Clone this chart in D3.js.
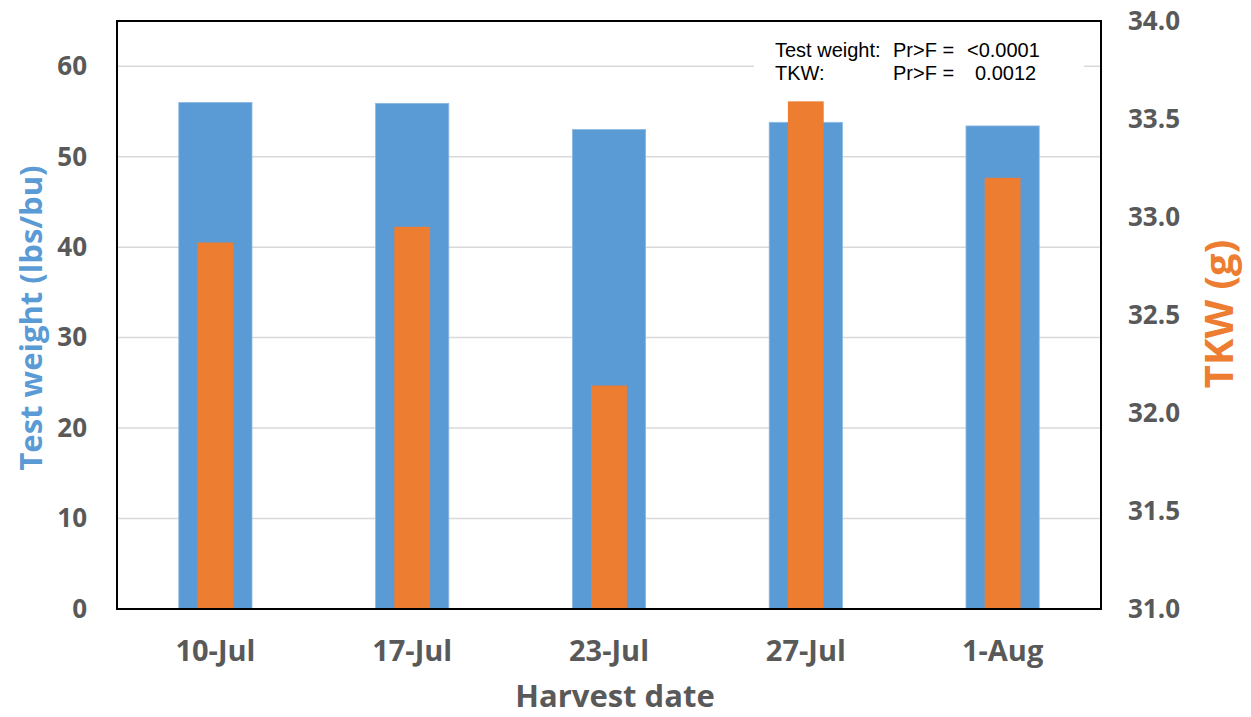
<!DOCTYPE html>
<html>
<head>
<meta charset="utf-8">
<script src="https://cdn.jsdelivr.net/npm/d3@7"></script>
<style>
  body { margin: 0; background: #fff; }
  svg { display: block; }
  .tick text { font-family: "Open Sans", "DejaVu Sans", sans-serif; font-weight: bold; fill: #595959; }
</style>
</head>
<body>
<svg id="chart" width="1251" height="717"></svg>
<script>
// Data
const dates = ['10-Jul', '17-Jul', '23-Jul', '27-Jul', '1-Aug'];
const testWeight = [56.0, 55.9, 53.0, 53.8, 53.4];
const tkw = [32.87, 32.95, 32.14, 33.59, 33.20];
const leftTicks = [0, 10, 20, 30, 40, 50, 60];
const rightTicks = [31.0, 31.5, 32.0, 32.5, 33.0, 33.5, 34.0];
const noteLines = [
  ['Test weight:', 'Pr>F =', '<0.0001'],
  ['TKW:', 'Pr>F =', '0.0012'],
];

const svg = d3.select('#chart');
const margin = { top: 21, right: 150, bottom: 108, left: 117 };
const width = 1251 - margin.left - margin.right;
const height = 717 - margin.top - margin.bottom;

const g = svg.append('g').attr('transform', `translate(${margin.left},${margin.top})`);

// Scales
const x = d3.scaleBand().domain(dates).range([0, width]).paddingInner(0).paddingOuter(0);
const yLeft = d3.scaleLinear().domain([0, 65]).range([height, 0]);
const yRight = d3.scaleLinear().domain([31, 34]).range([height, 0]);

// Gridlines
g.append('g')
  .selectAll('line')
  .data(leftTicks.filter((d) => d > 0))
  .join('line')
  .attr('x1', 0)
  .attr('x2', width)
  .attr('y1', (d) => yLeft(d))
  .attr('y2', (d) => yLeft(d))
  .attr('stroke', '#d9d9d9')
  .attr('stroke-width', 1.5);

// Blue bars (test weight)
const blueW = x.bandwidth() * 0.372;
g.append('g')
  .selectAll('rect')
  .data(dates)
  .join('rect')
  .attr('x', (d) => x(d) + x.bandwidth() / 2 - blueW / 2)
  .attr('width', blueW)
  .attr('y', (d, i) => yLeft(testWeight[i]))
  .attr('height', (d, i) => height - yLeft(testWeight[i]))
  .attr('fill', '#5B9BD5')
  .attr('stroke', '#8db8e2')
  .attr('stroke-width', 0.8);

// Orange bars (TKW)
const orangeW = x.bandwidth() * 0.182;
g.append('g')
  .selectAll('rect')
  .data(dates)
  .join('rect')
  .attr('x', (d) => x(d) + x.bandwidth() / 2 - orangeW / 2)
  .attr('width', orangeW)
  .attr('y', (d, i) => yRight(tkw[i]))
  .attr('height', (d, i) => height - yRight(tkw[i]))
  .attr('fill', '#ED7D31');

// Annotation box
const note = g.append('g').attr('transform', `translate(${637},${9})`);
note.append('rect')
  .attr('width', 330)
  .attr('height', 60)
  .attr('fill', '#fff');
noteLines.forEach((line, i) => {
  const t = note.append('text')
    .attr('y', 27 + i * 23)
    .style('font-family', '"Liberation Sans", Arial, sans-serif')
    .style('font-size', '20px')
    .attr('fill', '#000');
  t.append('tspan').attr('x', 21).text(line[0]);
  t.append('tspan').attr('x', 139).text(line[1]);
  t.append('tspan').attr('x', i === 0 ? 213 : 221).text(line[2]);
});

// Frame
g.append('rect')
  .attr('width', width)
  .attr('height', height)
  .attr('fill', 'none')
  .attr('stroke', '#000')
  .attr('stroke-width', 2);

// Axes
const leftAxis = g.append('g')
  .call(d3.axisLeft(yLeft).tickValues(leftTicks).tickSize(0).tickPadding(30));
leftAxis.select('.domain').remove();
leftAxis.selectAll('text').style('font-size', '26px');

const rightAxis = g.append('g')
  .attr('transform', `translate(${width},0)`)
  .call(d3.axisRight(yRight).tickValues(rightTicks).tickSize(0).tickPadding(27).tickFormat(d3.format('.1f')));
rightAxis.select('.domain').remove();
rightAxis.selectAll('text').style('font-size', '26px');

const bottomAxis = g.append('g')
  .attr('transform', `translate(0,${height})`)
  .call(d3.axisBottom(x).tickSize(0));
bottomAxis.select('.domain').remove();
bottomAxis.selectAll('text')
  .attr('y', 52)
  .attr('dy', 0)
  .style('font-size', '29px');

// Axis titles
const titleFont = '"Open Sans", "DejaVu Sans", sans-serif';
svg.append('text')
  .attr('transform', 'translate(42,318) rotate(-90)')
  .attr('text-anchor', 'middle')
  .style('font-family', titleFont)
  .style('font-weight', 'bold')
  .style('font-size', '31px')
  .attr('fill', '#5B9BD5')
  .text('Test weight (lbs/bu)');

svg.append('text')
  .attr('transform', 'translate(1233,314) rotate(-90)')
  .attr('text-anchor', 'middle')
  .style('font-family', titleFont)
  .style('font-weight', 'bold')
  .style('font-size', '40px')
  .attr('fill', '#ED7D31')
  .text('TKW (g)');

svg.append('text')
  .attr('x', 615)
  .attr('y', 707)
  .attr('text-anchor', 'middle')
  .style('font-family', titleFont)
  .style('font-weight', 'bold')
  .style('font-size', '31px')
  .attr('fill', '#595959')
  .text('Harvest date');
</script>
</body>
</html>
